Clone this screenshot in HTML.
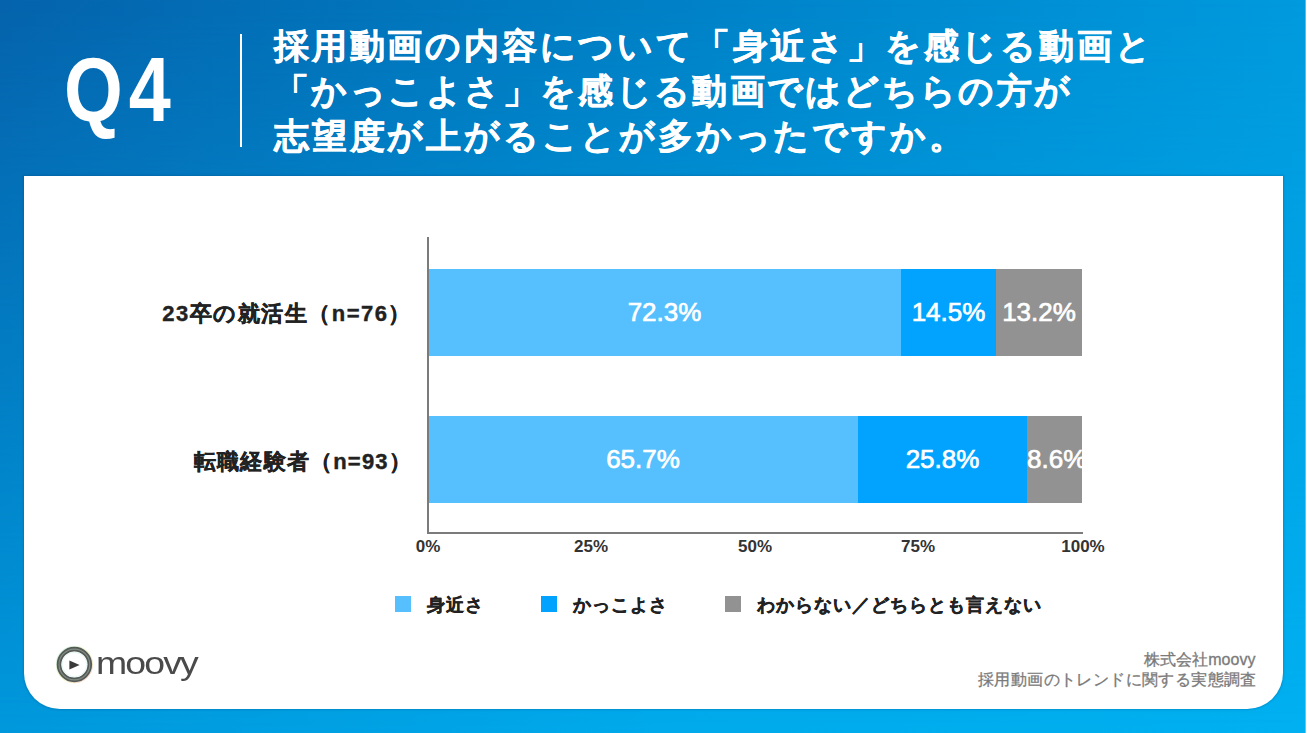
<!DOCTYPE html>
<html lang="ja">
<head>
<meta charset="utf-8">
<title>Q4</title>
<style>
html,body{margin:0;padding:0;}
body{width:1307px;height:733px;overflow:hidden;position:relative;font-family:"Liberation Sans",sans-serif;
background:linear-gradient(90deg,#0563ac 0%,#0080c6 50%,#009ade 100%);}
.bgb{position:absolute;left:0;top:0;width:1307px;height:733px;
background:linear-gradient(90deg,#0098dc 0%,#00aaeb 50%,#00b0f0 100%);
-webkit-mask-image:linear-gradient(180deg,rgba(0,0,0,0) 0%,#000 100%);mask-image:linear-gradient(180deg,rgba(0,0,0,0) 0%,#000 100%);}
.edge{position:absolute;right:0;top:0;width:2px;height:733px;background:linear-gradient(90deg,rgba(255,255,255,0.35) 50%,#fff 50%);}
.q{position:absolute;left:64px;top:40px;font-size:90px;font-weight:bold;color:#fff;line-height:100px;letter-spacing:7px;transform-origin:0 0;transform:scaleX(0.84);}
.sep{position:absolute;left:240px;top:34px;width:2px;height:113px;background:#fff;}
.title{position:absolute;left:274px;top:23px;color:#fff;font-weight:bold;font-size:35px;line-height:45px;letter-spacing:2.8px;white-space:nowrap;-webkit-text-stroke:0.5px #fff;}
.title div{height:45px;}
.card{position:absolute;left:24px;top:176px;width:1259px;height:533px;background:#fff;border-radius:0 0 36px 36px;box-shadow:0 0 2px 1px rgba(0,60,110,0.22);}
.ax-y{position:absolute;left:427px;top:237px;width:2px;height:297px;background:#7b7b7b;}
.ax-x{position:absolute;left:427px;top:532px;width:656px;height:2px;background:#7b7b7b;}
.bar{position:absolute;height:87px;}
.seg{position:absolute;top:0;height:87px;color:#fff;font-size:26px;font-weight:normal;-webkit-text-stroke:0.7px #fff;line-height:87px;text-align:center;white-space:nowrap;overflow:visible;}
.c1{background:#56c0fe;}
.c2{background:#01a3fe;}
.c3{background:#929292;}
.cat{position:absolute;right:895px;font-size:22px;font-weight:bold;color:#222;white-space:nowrap;-webkit-text-stroke:0.4px #222;letter-spacing:1.2px;}
.tick{position:absolute;top:537px;font-size:17px;font-weight:bold;color:#333;width:60px;margin-left:-30px;text-align:center;}
.leg{position:absolute;top:593px;font-size:18px;font-weight:bold;color:#222;white-space:nowrap;letter-spacing:1px;-webkit-text-stroke:0.4px #222;}
.leg i{display:inline-block;width:16px;height:16px;vertical-align:-1px;margin-right:16px;}
.src{position:absolute;right:51.6px;top:650px;font-size:16px;color:#7a7a7a;text-align:right;line-height:20px;-webkit-text-stroke:0.3px #7a7a7a;}
.logo{position:absolute;left:56px;top:646px;}
.logot{position:absolute;left:96px;top:645px;font-size:32px;color:#4a4a4a;letter-spacing:-1.6px;transform-origin:0 0;transform:scaleX(1.17);}
</style>
</head>
<body>
<div class="bgb"></div>
<div class="edge"></div>
<div class="q">Q4</div>
<div class="sep"></div>
<div class="title">
<div>採用動画の内容について「身近さ」を感じる動画と</div>
<div style="letter-spacing:2.3px">「かっこよさ」を感じる動画ではどちらの方が</div>
<div>志望度が上がることが多かったですか。</div>
</div>
<div class="card"></div>

<div class="cat" style="top:299px;letter-spacing:1.5px;">23卒の就活生（n=76）</div>
<div class="cat" style="top:447px;">転職経験者（n=93）</div>

<div class="bar" style="left:428px;top:269px;width:654px;">
  <div class="seg c1" style="left:0;width:473px;">72.3%</div>
  <div class="seg c2" style="left:473px;width:95px;">14.5%</div>
  <div class="seg c3" style="left:568px;width:86px;">13.2%</div>
</div>
<div class="bar" style="left:428px;top:416px;width:654px;">
  <div class="seg c1" style="left:0;width:430px;">65.7%</div>
  <div class="seg c2" style="left:430px;width:169px;">25.8%</div>
  <div class="seg c3" style="left:599px;width:55px;">8.6%</div>
</div>
<div class="ax-y"></div>
<div class="ax-x"></div>

<div class="tick" style="left:428px;">0%</div>
<div class="tick" style="left:591px;">25%</div>
<div class="tick" style="left:755px;">50%</div>
<div class="tick" style="left:918px;">75%</div>
<div class="tick" style="left:1083px;">100%</div>

<div class="leg" style="left:395px;"><i class="c1"></i>身近さ</div>
<div class="leg" style="left:541px;"><i class="c2"></i>かっこよさ</div>
<div class="leg" style="left:725px;"><i class="c3"></i>わからない／どちらとも言えない</div>

<svg class="logo" width="40" height="40" viewBox="0 0 40 40">
  <defs><linearGradient id="rg" x1="0" y1="0" x2="1" y2="1"><stop offset="0" stop-color="#bfeee8"/><stop offset="0.5" stop-color="#eef3b8"/><stop offset="1" stop-color="#f6c6c6"/></linearGradient></defs>
  <circle cx="18.4" cy="18.5" r="18" fill="none" stroke="url(#rg)" stroke-width="1.4" opacity="0.8"/>
  <circle cx="18.4" cy="18.5" r="15.4" fill="none" stroke="#555a56" stroke-width="4.6"/>
  <circle cx="18.4" cy="18.5" r="15.4" fill="none" stroke="#8f9a92" stroke-width="1.1" opacity="0.8"/>
  <circle cx="18.4" cy="18.5" r="12.3" fill="none" stroke="#d8f2ee" stroke-width="1" opacity="0.7"/>
  <path d="M13.4 14.4 L23.6 19 L13.4 23.6 Z" fill="#3a3a3a"/>
</svg>
<div class="logot">moovy</div>

<div class="src"><div>株式会社moovy</div><div style="letter-spacing:0.4px;margin-right:-1.5px;">採用動画のトレンドに関する実態調査</div></div>
</body>
</html>
